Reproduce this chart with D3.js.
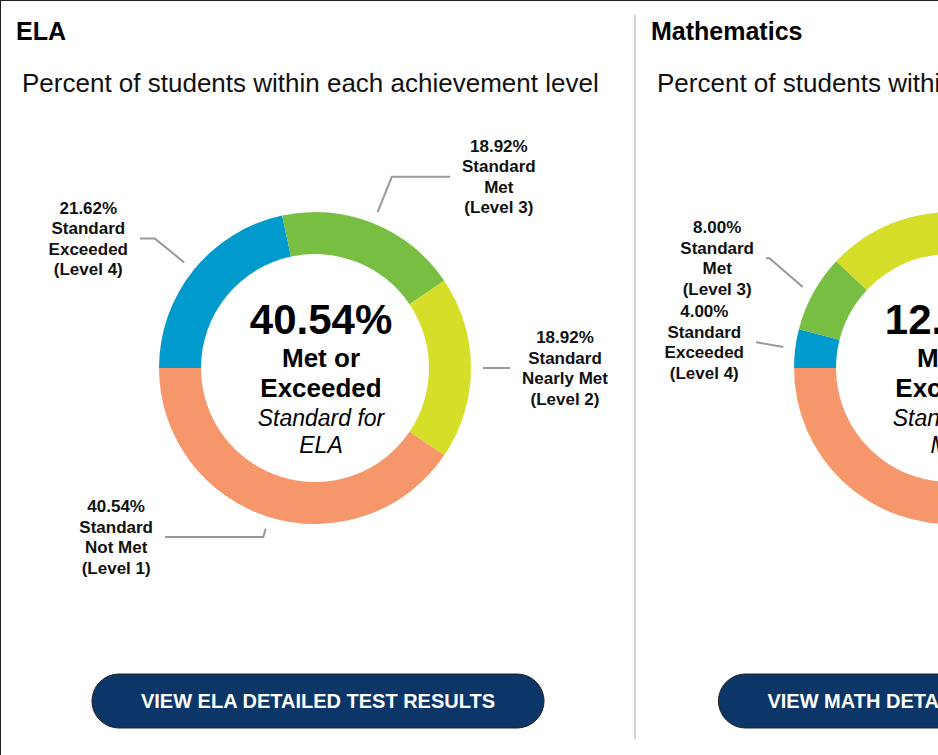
<!DOCTYPE html>
<html>
<head>
<meta charset="utf-8">
<script src="https://cdn.jsdelivr.net/npm/d3@7"></script>
<style>
  html, body { margin: 0; padding: 0; background: #fff; overflow: hidden; }
  svg { display: block; font-family: "Liberation Sans", Arial, Helvetica, sans-serif; }
</style>
</head>
<body>
<div id="chart"></div>
<script>
// Achievement level donuts, one panel per subject.
const levels = ["Level 4", "Level 3", "Level 2", "Level 1"];
const levelNames = ["Exceeded", "Met", "Nearly Met", "Not Met"];
const levelColors = ["#009bcc", "#78be43", "#d6de29", "#f5976a"];

const subjects = ["ELA", "Mathematics"];
const shortNames = ["ELA", "Math"];
const elaValues = [21.62, 18.92, 18.92, 40.54];
const mathValues = [4.00, 8.00, 36.00, 52.00];
const buttonTexts = ["VIEW ELA DETAILED TEST RESULTS", "VIEW MATH DETAILED TEST RESULTS"];

// layout
const width = 1262, height = 755;
const panelW = 634;
const panelX = [1, 636];
const outerR = 156, innerR = 114;
const cy = 368;
const labelDx = [[175, 135, 195, 150], [194, 184, 150, 150]]; // connector end, from centre
const blockH = 84;
const fmt = d3.format(".2f");

const svg = d3.select('#chart')
    .append('svg')
    .attr('width', width)
    .attr('height', height);

svg.append('rect')
    .attr('x', 0.5).attr('y', 0.5)
    .attr('width', width - 1).attr('height', height + 10)
    .attr('fill', '#fff')
    .attr('stroke', '#222');

svg.append('line')
    .attr('x1', 635).attr('x2', 635)
    .attr('y1', 15).attr('y2', 739)
    .attr('stroke', '#d4d4d4')
    .attr('stroke-width', 2);

const pie = d3.pie()
    .sort(null)
    .startAngle(-Math.PI / 2)
    .endAngle(1.5 * Math.PI);

const arc = d3.arc()
    .innerRadius(innerR)
    .outerRadius(outerR);

[elaValues, mathValues].forEach((values, p) => drawPanel(values, p));

function drawPanel(values, p) {
    const x0 = panelX[p];
    const cx = x0 + panelW / 2 - 3;
    const g = svg.append('g');

    g.append('text')
        .attr('x', x0 + 15).attr('y', 40)
        .style('font-size', '25px').style('font-weight', 'bold')
        .attr('fill', '#000')
        .text(subjects[p]);

    g.append('text')
        .attr('x', x0 + 21).attr('y', 92)
        .style('font-size', '26px')
        .attr('fill', '#111')
        .text('Percent of students within each achievement level');

    const donut = g.append('g')
        .attr('transform', `translate(${cx},${cy})`);

    const arcs = pie(values);

    donut.selectAll('path.slice')
        .data(arcs)
        .join('path')
        .attr('class', 'slice')
        .attr('d', arc)
        .attr('fill', (d, i) => levelColors[i]);

    // centre text
    const met = values[0] + values[1];
    const centre = [
        {t: fmt(met) + '%', size: 42, weight: 'bold', style: 'normal', y: -34},
        {t: 'Met or', size: 26, weight: 'bold', style: 'normal', y: -1},
        {t: 'Exceeded', size: 26, weight: 'bold', style: 'normal', y: 29},
        {t: 'Standard for', size: 23, weight: 'normal', style: 'italic', y: 58},
        {t: shortNames[p], size: 23, weight: 'normal', style: 'italic', y: 85}
    ];
    donut.selectAll('text.centre')
        .data(centre)
        .join('text')
        .attr('class', 'centre')
        .attr('x', 6)
        .attr('y', d => d.y)
        .attr('text-anchor', 'middle')
        .style('font-size', d => d.size + 'px')
        .style('font-weight', d => d.weight)
        .style('font-style', d => d.style)
        .attr('fill', '#000')
        .text(d => d.t);

    // data labels with connectors
    const items = arcs.map((d, i) => {
        const mid = (d.startAngle + d.endAngle) / 2;
        const s = Math.sin(mid), c = -Math.cos(mid);
        const y = Math.max(-200, Math.min(169, c * (outerR + 50)));
        return {d, i, s, c, side: s < 0 ? -1 : 1, y};
    });
    [-1, 1].forEach(side => {
        const grp = items.filter(o => o.side === side).sort((a, b) => b.y - a.y);
        for (let k = 1; k < grp.length; k++) {
            if (grp[k - 1].y - grp[k].y < blockH) grp[k].y = grp[k - 1].y - blockH;
        }
    });

    items.forEach(o => {
        const p0 = [o.s * (outerR + 12), o.c * (outerR + 12)];
        const rY = Math.abs(o.c) > 1e-6 ? Math.abs(o.y / o.c) : outerR + 50;
        const elbow = [o.s * Math.min(outerR + 50, rY), o.y];
        const endX = o.side * labelDx[p][o.i];
        const pts = Math.abs(endX) < Math.abs(elbow[0]) ? [p0, [endX, o.y]] : [p0, elbow, [endX, o.y]];

        donut.append('path')
            .attr('d', d3.line()(pts))
            .attr('fill', 'none')
            .attr('stroke', '#999')
            .attr('stroke-width', 2);

        const lines = [fmt(values[o.i]) + '%', 'Standard', levelNames[o.i], '(' + levels[o.i] + ')'];
        const t = donut.append('text')
            .attr('text-anchor', 'middle')
            .style('font-size', '17px')
            .style('font-weight', 'bold')
            .attr('fill', '#111');
        const spans = t.selectAll('tspan')
            .data(lines)
            .join('tspan')
            .attr('y', (d, k) => o.y - 25 + k * 20.5)
            .text(d => d);
        let maxW = 0;
        spans.each(function () { maxW = Math.max(maxW, this.getComputedTextLength()); });
        spans.attr('x', endX + o.side * (12 + maxW / 2));
    });

    // button
    const bx = x0 + panelW / 2;
    const btn = g.append('g');
    const rect = btn.append('rect')
        .attr('y', 674)
        .attr('height', 54)
        .attr('rx', 27)
        .attr('fill', '#0c3568')
        .attr('stroke', '#222')
        .attr('stroke-width', 1);
    const label = btn.append('text')
        .attr('x', bx).attr('y', 708)
        .attr('text-anchor', 'middle')
        .style('font-size', '20px')
        .style('font-weight', 'bold')
        .attr('fill', '#fff')
        .text(buttonTexts[p]);
    const tw = label.node().getComputedTextLength() + 98;
    rect.attr('x', bx - tw / 2).attr('width', tw);
}
</script>
</body>
</html>
